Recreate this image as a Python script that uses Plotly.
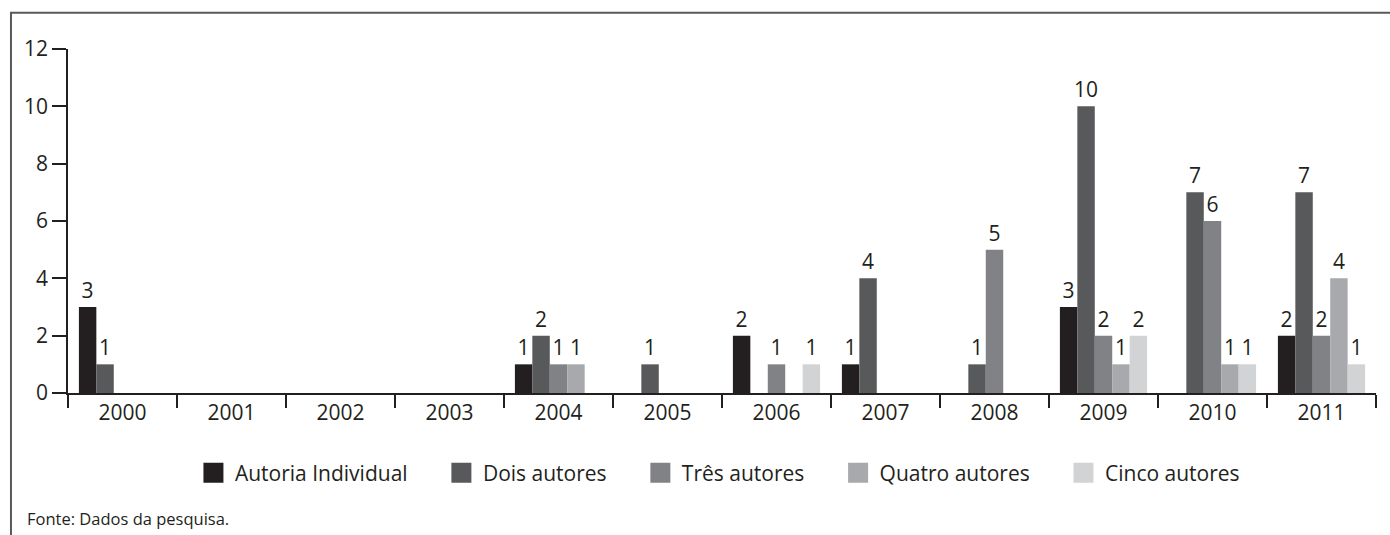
import plotly.graph_objects as go

years = ["2000", "2001", "2002", "2003", "2004", "2005", "2006", "2007", "2008", "2009", "2010", "2011"]
series_names = ["Autoria Individual", "Dois autores", "Três autores", "Quatro autores", "Cinco autores"]
individual = [3, None, None, None, 1, None, 2, 1, None, 3, None, 2]
dois = [1, None, None, None, 2, 1, None, 4, 1, 10, 7, 7]
tres = [None, None, None, None, 1, None, 1, None, 5, 2, 6, 2]
quatro = [None, None, None, None, 1, None, None, None, None, 1, 1, 4]
cinco = [None, None, None, None, None, None, 1, None, None, 2, 1, 1]
colors = ["#231f20", "#58595b", "#808285", "#a7a9ac", "#d1d3d4"]
y_ticks = [0, 2, 4, 6, 8, 10, 12]
source_text = "Fonte: Dados da pesquisa."

FONT = "Open Sans"
TXT = "#231f20"
AX = "#231f20"

fig = go.Figure()
for name, vals, col in zip(series_names, [individual, dois, tres, quatro, cinco], colors):
    fig.add_trace(go.Bar(
        name=name, x=years, y=vals,
        marker=dict(color=col, line=dict(width=0)),
        text=[("" if v is None else str(v)) for v in vals],
        textposition="outside",
        constraintext="none",
        textfont=dict(family=FONT, size=21, color=TXT),
        cliponaxis=False,
        showlegend=False,
        legendgroup=name,
    ))
# legend entries (square swatches)
for name, col in zip(series_names, colors):
    fig.add_trace(go.Scatter(
        name=name + "\u00a0" * 5, x=[None], y=[None], mode="markers",
        marker=dict(symbol="square", size=16, color=col, line=dict(color=col, width=4)),
        showlegend=True, legendgroup=name, hoverinfo="skip",
    ))

fig.update_layout(
    width=1390, height=535,
    paper_bgcolor="white", plot_bgcolor="white",
    barmode="group", bargap=0.2, bargroupgap=0,
    margin=dict(l=68, r=14, t=49, b=142, autoexpand=False),
    font=dict(family=FONT, size=21, color=TXT),
    legend=dict(orientation="h", x=0.5076, xanchor="center", y=-0.2326, yanchor="middle",
                font=dict(family=FONT, size=21, color=TXT), traceorder="normal",
                itemwidth=33, itemsizing="trace"),
    showlegend=True,
)
fig.update_xaxes(
    type="category", showline=True, linecolor=AX, linewidth=1.5,
    ticks="outside", tickson="boundaries", ticklen=13, tickcolor=AX, tickwidth=1.5,
    showgrid=False, tickfont=dict(family=FONT, size=21, color=TXT),
)
fig.update_yaxes(
    range=[0, 12], tickvals=y_ticks, showline=True, linecolor=AX, linewidth=1.5,
    ticks="outside", ticklen=14, tickcolor=AX, tickwidth=1.5,
    showgrid=False, zeroline=False, tickfont=dict(family=FONT, size=21, color=TXT),
)
# outer frame
fig.add_shape(type="rect", xref="paper", yref="paper",
              x0=-0.0436, x1=1.03, y0=-0.45, y1=1.1055,
              line=dict(color="#58595b", width=2), fillcolor="rgba(0,0,0,0)", layer="below")
fig.add_annotation(text=source_text, xref="paper", yref="paper", x=-0.0329, y=-0.365,
                   xanchor="left", yanchor="middle", showarrow=False,
                   font=dict(family=FONT, size=16.5, color=TXT))
fig.write_html("out.html", config={"displayModeBar": False},
               post_script="document.body.style.margin='0px';")
